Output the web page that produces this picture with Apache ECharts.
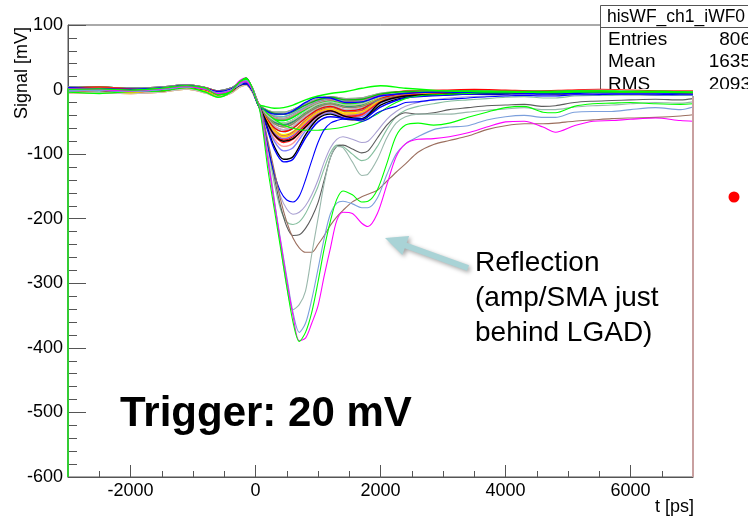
<!DOCTYPE html>
<html>
<head>
<meta charset="utf-8">
<script src="https://cdn.jsdelivr.net/npm/echarts@6/dist/echarts.min.js"></script>
<style>html,body{margin:0;padding:0;background:#fff;}#c{width:748px;height:517px;}</style>
</head>
<body>
<div id="c"></div>
<script>
// ---------- data ----------
const xMajorTicks = [-2000, 0, 2000, 4000, 6000];
const xMinorTicks = [-2500, -1500, -1000, -500, 500, 1000, 1500, 2500, 3000, 3500, 4500, 5000, 5500, 6500, 7000];

// time grid of the small-pulse bundle (ps)
const tBundle = [-3000,-2500,-2000,-1500,-1100,-800,-600,-400,-250,-150,-50,0,50,150,300,450,600,800,1000,1200,1450,1700,2000,2400,3000,3500,4000,4500,5000,5500,6000,6500,7000];
// time grid of the large pulses (ps)
const tLarge = [-3000,-2500,-2000,-1500,-1100,-800,-600,-400,-250,-150,-50,0,50,100,200,300,400,500,600,700,800,900,1000,1100,1200,1300,1400,1550,1700,1800,1950,2100,2250,2400,2600,2850,3100,3400,3700,4000,4300,4600,4800,5100,5400,5700,6000,6400,6800,7000];

// small pulses (mV)
const wfGray1   = [2,0,-1,1,4,0,-4,-1,8,10,0,-12,-24,-33,-41,-42,-37,-27,-18,-14,-18,-16,-8,-4,-3,-2,-3,-4,-3,-2,-3,-4,-4];
const wfRed1    = [-2,-3,-3,0,6,2,-6,-3,6,12,2,-10,-22,-37,-51,-55,-50,-36,-25,-20,-26,-24,-12,-6,-4,-4,-5,-5,-4,-3,-4,-5,-5];
const wfGreenTop= [-4,-6,-3,-2,3,-4,-12,-4,12,16,0,-12,-23,-26,-29,-28,-24,-16,-10,-6,-3,2,6,2,-2,-3,-3,-4,-3,-2,-3,-3,-4];
const wfBlueTop = [3,1,0,2,6,1,-3,0,7,9,-2,-14,-25,-32,-38,-38,-33,-20,-12,-13,-20,-19,-10,-6,-4,-5,-5,-6,-5,-5,-6,-6,-7];
const wfMag1    = [0,2,-2,-1,3,-1,-8,-2,14,18,1,-13,-25,-39,-56,-62,-57,-41,-29,-24,-31,-28,-14,-7,-5,-4,-5,-6,-4,-4,-5,-5,-6];
const wfCyan1   = [1,0,0,1,5,1,-4,0,8,10,-1,-12,-24,-35,-46,-48,-43,-31,-21,-17,-22,-20,-10,-5,-4,-3,-4,-4,-3,-3,-4,-4,-5];
const wfYellow1 = [1,-1,-1,2,7,3,-5,-2,9,16,3,-11,-24,-41,-62,-70,-65,-47,-33,-28,-36,-33,-16,-8,-6,-5,-6,-6,-5,-4,-5,-6,-6];
const wfC8      = [-2,-2,-3,0,5,2,-5,-3,6,11,2,-10,-22,-30,-35,-35,-31,-22,-14,-11,-14,-13,-6,-3,-2,-2,-3,-3,-2,-2,-3,-3,-4];
const wfC9      = [0,1,-2,0,4,0,-7,-2,9,13,1,-13,-25,-37,-50,-54,-50,-37,-26,-21,-27,-25,-12,-6,-5,-4,-5,-5,-4,-4,-4,-5,-5];
const wfGray2   = [3,2,1,2,5,1,-3,0,7,9,-2,-13,-24,-34,-45,-47,-42,-30,-20,-16,-21,-20,-10,-5,-4,-3,-4,-4,-3,-3,-4,-4,-5];
const wfRed2    = [-4,-2,-4,-2,2,-3,-10,-4,5,8,-3,-13,-23,-43,-68,-78,-73,-54,-38,-32,-41,-38,-19,-9,-6,-5,-6,-7,-5,-5,-6,-6,-7];
const wfGreen2  = [2,0,-2,1,4,0,-5,-1,8,11,0,-12,-24,-35,-46,-48,-43,-31,-21,-17,-22,-20,-10,-5,-4,-3,-4,-4,-3,-3,-4,-4,-5];
const wfBlack1  = [1,0,-1,1,5,1,-5,-1,8,10,-1,-12,-24,-48,-88,-108,-104,-70,-45,-38,-46,-47,-24,-12,-8,-6,-7,-8,-6,-6,-7,-7,-8];
const wfBlue2   = [2,1,0,2,6,1,-4,0,9,11,0,-12,-25,-50,-92,-112,-108,-75,-50,-42,-45,-46,-27,-13,-9,-7,-7,-8,-6,-6,-7,-8,-8];
const wfBlack2  = [0,-1,-2,0,4,0,-6,-2,7,9,-1,-12,-24,-44,-70,-80,-76,-58,-40,-33,-42,-45,-20,-10,-7,-6,-7,-7,-6,-6,-7,-7,-8];
const wfPink    = [1,0,-1,1,4,0,-5,-1,8,10,0,-12,-24,-45,-76,-88,-83,-60,-42,-35,-43,-41,-20,-10,-7,-6,-6,-7,-5,-5,-6,-6,-7];
const wfGray3   = [-2,-3,-3,0,6,2,-6,-3,6,12,2,-10,-22,-39,-56,-62,-57,-41,-29,-24,-31,-28,-14,-7,-5,-4,-5,-6,-4,-4,-5,-5,-6];
const wfRose    = [0,1,-1,1,6,2,-4,-1,8,14,2,-11,-24,-42,-63,-72,-66,-48,-34,-27,-34,-32,-15,-8,-6,-5,-6,-6,-5,-5,-5,-6,-6];
const wfTeal    = [-4,-2,-4,-2,2,-3,-10,-4,5,8,-3,-13,-23,-33,-41,-42,-37,-27,-18,-14,-18,-16,-8,-4,-3,-2,-3,-4,-3,-2,-3,-4,-4];
const wfDkGreen = [3,1,0,2,5,1,-3,0,7,9,-2,-14,-24,-37,-51,-55,-50,-36,-25,-20,-26,-24,-12,-6,-4,-4,-5,-5,-4,-3,-4,-5,-5];
const wfGray4   = [1,-1,-1,2,7,3,-5,-2,9,16,3,-11,-24,-30,-35,-35,-31,-22,-14,-11,-14,-13,-6,-3,-2,-2,-3,-3,-2,-2,-3,-3,-4];
const wfPurple  = [2,0,-1,1,4,0,-4,-1,8,10,0,-12,-24,-43,-67,-76,-71,-52,-37,-31,-39,-37,-18,-9,-6,-5,-6,-6,-5,-5,-6,-6,-7];
const wfRed3    = [4,3,2,4,7,3,-2,2,10,12,-1,-13,-24,-34,-43,-45,-40,-29,-20,-16,-20,-18,-9,-2,-1,0,-1,-2,-1,0,-1,-2,-2];
const wfYellow2 = [-5,-5,-6,-4,1,-5,-11,-6,4,7,-4,-14,-23,-38,-53,-58,-53,-38,-27,-22,-28,-26,-13,-6,-5,-4,-5,-6,-4,-4,-5,-5,-6];
const wfCyan2   = [2,4,1,-2,5,2,-3,-3,9,13,0,-12,-25,-40,-59,-65,-60,-44,-31,-26,-33,-30,-15,-7,-5,-5,-6,-6,-5,-4,-5,-6,-6];
const wfMag2    = [-3,-1,-5,1,3,-2,-8,0,6,9,-1,-11,-22,-31,-37,-38,-34,-24,-16,-12,-16,-15,-9,-6,-5,-5,-6,-6,-5,-5,-6,-6,-7];
const wfGreen3  = [4,3,2,4,7,3,-2,2,10,12,-1,-13,-24,-36,-48,-52,-47,-34,-23,-19,-24,-22,-11,-5,-4,-4,-5,-5,-4,-3,-4,-5,-5];
const wfSalmon  = [-5,-5,-6,-4,1,-5,-11,-6,4,7,-4,-14,-23,-42,-64,-73,-68,-50,-35,-30,-38,-35,-17,-8,-6,-5,-6,-7,-5,-5,-6,-6,-7];
const wfGray5   = [2,4,1,-2,5,2,-3,-3,9,13,0,-12,-25,-34,-43,-45,-40,-29,-20,-16,-20,-18,-11,-8,-7,-7,-8,-8,-7,-6,-7,-8,-8];
const wfRed4    = [-3,-1,-5,1,3,-2,-8,0,6,9,-1,-11,-22,-40,-59,-65,-60,-44,-31,-26,-33,-30,-14,-6,-4,-4,-5,-5,-4,-3,-4,-5,-5];
const wfViolet  = [4,3,2,4,7,3,-2,2,10,12,-1,-13,-24,-46,-80,-95,-90,-64,-44,-36,-44,-42,-21,-10,-7,-6,-7,-7,-6,-6,-6,-7,-7];
const wfSilver  = [-5,-5,-6,-4,1,-5,-11,-6,4,7,-4,-14,-23,-36,-48,-52,-47,-34,-23,-19,-24,-22,-11,-3,-2,-2,-3,-3,-2,-1,-2,-3,-3];
const wfGreen4  = [2,4,1,-2,5,2,-3,-3,9,13,0,-12,-25,-31,-37,-38,-34,-24,-16,-12,-16,-15,-7,-3,-2,-2,-3,-3,-2,-2,-3,-3,-4];
const wfAmber   = [-3,-1,-5,1,3,-2,-8,0,6,9,-1,-11,-22,-42,-64,-73,-68,-50,-35,-30,-38,-35,-17,-8,-6,-5,-6,-6,-5,-5,-6,-6,-7];
const wfGray6   = [4,3,2,4,7,3,-2,2,10,12,-1,-13,-24,-38,-53,-58,-53,-38,-27,-22,-28,-26,-15,-9,-8,-7,-8,-9,-7,-7,-8,-8,-9];
const wfRed5    = [2,4,1,-2,5,2,-3,-3,9,13,0,-12,-25,-44,-71,-82,-77,-57,-40,-33,-42,-39,-19,-9,-7,-6,-6,-7,-6,-5,-6,-7,-7];

// large pulses (mV)
const wfGreenBig = [0,1,-1,2,6,2,-8,-3,12,18,2,-12,-25,-50,-125,-185,-245,-305,-360,-390,-376,-345,-298,-246,-203,-170,-157,-163,-174,-173,-155,-115,-72,-55,-52,-55,-52,-43,-35,-28,-26,-35,-36,-26,-22,-21,-20,-22,-23,-22];
const wfMagBig   = [1,0,-2,1,5,0,-6,-2,10,12,0,-12,-24,-45,-110,-175,-235,-295,-350,-389,-385,-362,-335,-288,-245,-203,-190,-192,-207,-212,-192,-148,-104,-84,-77,-76,-73,-67,-58,-50,-49,-58,-66,-56,-49,-48,-46,-44,-48,-49];
const wfCornflower=[-2,-1,-3,0,4,1,-5,-1,8,14,2,-11,-23,-45,-112,-172,-232,-290,-345,-376,-362,-325,-278,-230,-192,-176,-173,-177,-183,-183,-168,-132,-100,-84,-73,-62,-58,-56,-47,-42,-40,-43,-43,-35,-34,-34,-31,-28,-31,-27];
const wfGrayTeal = [-2,-1,-3,0,4,1,-5,-1,8,14,2,-11,-23,-40,-100,-170,-240,-305,-341,-333,-312,-255,-200,-145,-105,-88,-90,-112,-133,-131,-108,-75,-52,-42,-38,-38,-38,-35,-32,-30,-28,-31,-31,-27,-25,-24,-22,-20,-21,-19];
const wfBrown    = [1,0,-2,1,5,0,-6,-2,10,12,0,-12,-24,-35,-80,-125,-170,-205,-230,-245,-252,-252,-240,-226,-210,-197,-187,-174,-166,-162,-156,-142,-128,-115,-97,-85,-79,-72,-62,-56,-53,-53,-52,-49,-47,-45,-44,-43,-41,-39];
const wfDarkGray = [0,1,-1,2,6,2,-8,-3,12,18,2,-12,-25,-38,-85,-135,-180,-212,-226,-225,-215,-198,-175,-140,-105,-88,-86,-92,-98,-95,-75,-55,-42,-36,-38,-36,-31,-28,-25,-24,-23,-26,-25,-20,-18,-17,-16,-15,-16,-14];
const wfLavender = [-2,-1,-3,0,4,1,-5,-1,8,14,2,-11,-23,-38,-85,-130,-165,-185,-193,-190,-180,-163,-140,-112,-90,-77,-73,-77,-82,-80,-64,-46,-34,-26,-20,-16,-13,-11,-10,-9,-8,-9,-9,-8,-7,-7,-7,-7,-8,-8];
const wfTealGreen= [1,0,-2,1,5,0,-6,-2,10,12,0,-12,-24,-38,-90,-145,-185,-205,-209,-205,-192,-172,-150,-122,-98,-86,-88,-100,-110,-107,-88,-62,-42,-32,-26,-22,-18,-16,-14,-12,-11,-13,-13,-10,-9,-9,-8,-8,-9,-9];
const wfBlueMid  = [-2,-1,-3,0,4,1,-5,-1,8,14,2,-11,-23,-40,-90,-130,-158,-171,-174,-165,-140,-110,-82,-62,-52,-48,-46,-46,-49,-46,-36,-30,-26,-20,-19,-16,-15,-13,-11,-10,-9,-10,-10,-8,-8,-7,-7,-7,-8,-8];
const wfGreenMid = [0,1,-1,2,6,2,-8,-3,12,18,2,-12,-25,-28,-38,-46,-52,-57,-60,-62,-63,-63,-63,-62,-61,-60,-58,-55,-50,-45,-38,-28,-20,-14,-10,-8,-7,-6,-5,-5,-4,-5,-5,-4,-4,-4,-4,-4,-5,-5];

// outer edges of the histograms
const edgeLeftT = [-3000, -3000];
const edgeLeftV = [-600, 2];
const edgeRightT = [7000, 7000];
const edgeRightV = [-600, -12];

const bundle = [
  ['#b0b0b0', wfGray1], ['#ff0000', wfRed1], ['#59d454', wfC8], ['#5954d8', wfC9],
  ['#00ffff', wfCyan1], ['#ffff00', wfYellow1], ['#ff00ff', wfMag1], ['#8c8c8c', wfGray2],
  ['#ff0000', wfRed2], ['#00ff00', wfGreen2], ['#ff9999', wfPink], ['#bdbdbd', wfGray3],
  ['#cc5555', wfRose], ['#66bbbb', wfTeal], ['#339966', wfDkGreen], ['#a0a0a0', wfGray4],
  ['#9966cc', wfPurple], ['#ff0000', wfRed3], ['#ffff00', wfYellow2], ['#00ffff', wfCyan2],
  ['#ff00ff', wfMag2], ['#00ff00', wfGreen3], ['#ff8080', wfSalmon], ['#aaaaaa', wfGray5],
  ['#ff0000', wfRed4], ['#7f7fff', wfViolet], ['#c0c0c0', wfSilver], ['#00cc00', wfGreen4],
  ['#ffcc00', wfAmber], ['#808080', wfGray6], ['#ff2020', wfRed5],
  ['#000000', wfBlack2], ['#000000', wfBlack1], ['#0000ff', wfBlue2],
  ['#0000ff', wfBlueTop], ['#00ff00', wfGreenTop]
];
const large = [
  ['#a9a0d2', wfLavender], ['#86bf9f', wfTealGreen], ['#5c5c5c', wfDarkGray], ['#00ff00', wfGreenMid],
  ['#0000ff', wfBlueMid], ['#9c6f5f', wfBrown], ['#9ab8ac', wfGrayTeal], ['#7b9fdc', wfCornflower],
  ['#ff00ff', wfMagBig], ['#00ff00', wfGreenBig]
];

// ---------- chart ----------
const FONT = '"Liberation Sans", Arial, Helvetica, sans-serif';
const chart = echarts.init(document.getElementById('c'), null, {renderer: 'canvas'});

function mk(t, v, color, width) {
  return {
    type: 'line', data: t.map((x, i) => [x, v[i]]), symbol: 'none', showSymbol: false,
    smooth: 0.3, silent: true, animation: false, z: 2,
    lineStyle: {color: color, width: width || 1}, emphasis: {disabled: true}
  };
}
const series = [];
bundle.forEach(b => series.push(mk(tBundle, b[1], b[0], 1.4)));
large.forEach(b => series.push(mk(tLarge, b[1], b[0], 1.1)));
series.push(mk(edgeLeftT, edgeLeftV, '#33cc33', 2));
series.push(mk(edgeRightT, edgeRightV, '#c9a0a0', 2));

const tickStyle = {color: '#555', width: 1};
const option = {
  animation: false,
  backgroundColor: '#fff',
  grid: {left: 68, right: 55, top: 25, bottom: 40, show: true, borderColor: '#555', borderWidth: 1},
  xAxis: [
    {type: 'value', min: -3000, max: 7000, position: 'bottom',
     axisLine: {show: true, onZero: false, lineStyle: tickStyle},
     axisTick: {show: true, inside: true, length: 12, customValues: xMajorTicks, lineStyle: tickStyle},
     axisLabel: {customValues: xMajorTicks, fontSize: 18, color: '#000', margin: 5, fontFamily: FONT,
                 formatter: v => String(v)},
     splitLine: {show: false}},
    {type: 'value', min: -3000, max: 7000, position: 'bottom',
     axisLine: {show: false, onZero: false},
     axisTick: {show: true, inside: true, length: 6, customValues: xMinorTicks, lineStyle: tickStyle},
     axisLabel: {show: false}, splitLine: {show: false}}
  ],
  yAxis: {type: 'value', min: -600, max: 100, interval: 100,
    axisLine: {show: true, onZero: false, lineStyle: tickStyle},
    axisTick: {show: true, inside: true, length: 18, lineStyle: tickStyle},
    minorTick: {show: true, splitNumber: 5, length: 9, lineStyle: tickStyle},
    axisLabel: {fontSize: 18, color: '#000', margin: 5, fontFamily: FONT, formatter: v => String(v)},
    splitLine: {show: false}, minorSplitLine: {show: false}},
  series: series,
  graphic: [
    // stats box
    {type: 'rect', z: 1, shape: {x: 600.5, y: 5.5, width: 160, height: 90}, style: {fill: '#fff', stroke: '#555', lineWidth: 1}},
    {type: 'line', z: 1.1, shape: {x1: 600, y1: 27.5, x2: 748, y2: 27.5}, style: {stroke: '#555', lineWidth: 1}},
    {type: 'text', z: 1.2, x: 607, y: 17, style: {text: 'hisWF_ch1_iWF0', fontSize: 17.5, fontFamily: FONT, fill: '#000', textAlign: 'left', textVerticalAlign: 'middle'}},
    {type: 'text', z: 1.2, x: 608, y: 40, style: {text: 'Entries', fontSize: 19, fontFamily: FONT, fill: '#000', textAlign: 'left', textVerticalAlign: 'middle'}},
    {type: 'text', z: 1.2, x: 751, y: 40, style: {text: '806', fontSize: 19, fontFamily: FONT, fill: '#000', textAlign: 'right', textVerticalAlign: 'middle'}},
    {type: 'text', z: 1.2, x: 608, y: 62, style: {text: 'Mean', fontSize: 19, fontFamily: FONT, fill: '#000', textAlign: 'left', textVerticalAlign: 'middle'}},
    {type: 'text', z: 1.2, x: 751, y: 62, style: {text: '1635', fontSize: 19, fontFamily: FONT, fill: '#000', textAlign: 'right', textVerticalAlign: 'middle'}},
    {type: 'text', z: 1.2, x: 608, y: 85, style: {text: 'RMS', fontSize: 19, fontFamily: FONT, fill: '#000', textAlign: 'left', textVerticalAlign: 'middle'}},
    {type: 'text', z: 1.2, x: 751, y: 85, style: {text: '2093', fontSize: 19, fontFamily: FONT, fill: '#000', textAlign: 'right', textVerticalAlign: 'middle'}},
    {type: 'rect', z: 1.4, shape: {x: 599, y: 89, width: 150, height: 7}, style: {fill: '#fff'}},
    // axis titles
    {type: 'text', z: 3, x: 22, y: 73, rotation: Math.PI / 2, style: {text: 'Signal [mV]', fontSize: 18, fontFamily: FONT, fill: '#000', textAlign: 'center', textVerticalAlign: 'middle'}},
    {type: 'text', z: 3, x: 694, y: 507, style: {text: 't [ps]', fontSize: 18, fontFamily: FONT, fill: '#000', textAlign: 'right', textVerticalAlign: 'middle'}},
    // annotations
    {type: 'text', z: 3, x: 120, y: 414, style: {text: 'Trigger: 20 mV', fontSize: 42, fontWeight: 'bold', fontFamily: FONT, fill: '#000', textAlign: 'left', textVerticalAlign: 'middle'}},
    {type: 'text', z: 3, x: 475, y: 246, style: {text: 'Reflection\n(amp/SMA just\nbehind LGAD)', fontSize: 28, lineHeight: 35, fontFamily: FONT, fill: '#000', textAlign: 'left', textVerticalAlign: 'top'}},
    {type: 'polygon', z: 3, shape: {points: [[385,238],[409.1,236.1],[406.7,242.7],[469,265.2],[467,270.8],[404.7,248.3],[402.3,255]]},
     style: {fill: '#a9d3d6', shadowBlur: 4, shadowColor: 'rgba(0,0,0,0.35)', shadowOffsetX: 2, shadowOffsetY: 2}},
    {type: 'circle', z: 3, shape: {cx: 734, cy: 197, r: 5.5}, style: {fill: '#ff0000'}}
  ]
};
chart.setOption(option);
</script>
</body>
</html>
